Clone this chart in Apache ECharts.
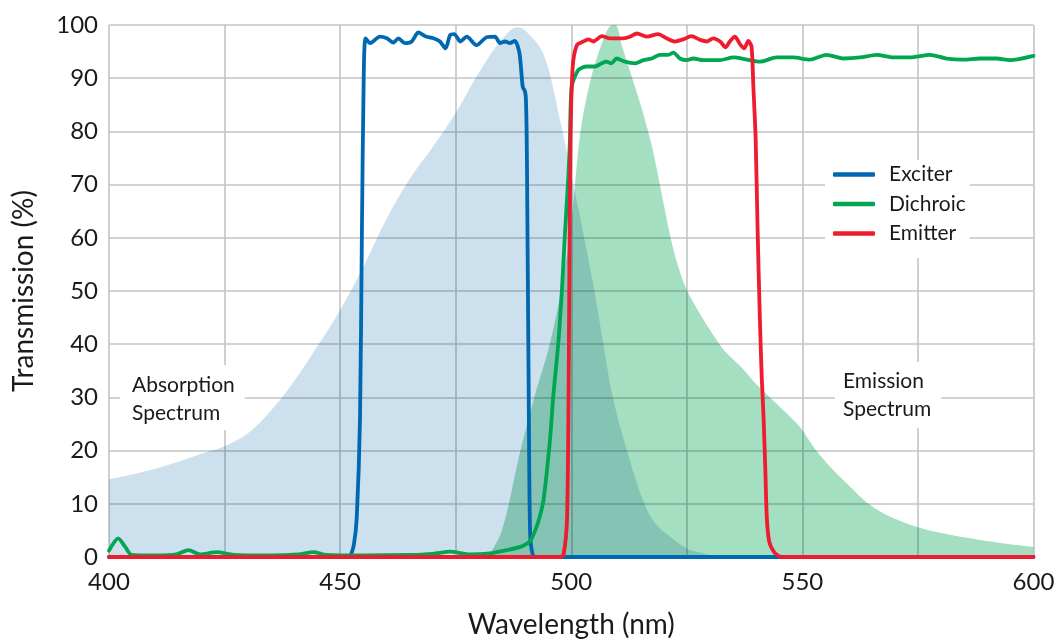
<!DOCTYPE html>
<html>
<head>
<meta charset="utf-8">
<title>Filter set transmission</title>
<script src="https://cdn.jsdelivr.net/npm/echarts@6/dist/echarts.min.js"></script>
<style>
  html, body { margin: 0; padding: 0; background: #fff; }
  #chart { width: 1059px; height: 641px; }
</style>
</head>
<body>
<div id="chart"></div>
<script>
// Wavelength axis ticks (nm) and transmission ticks (%)
const xTicks = [400, 450, 500, 550, 600];
const yTicks = [0, 10, 20, 30, 40, 50, 60, 70, 80, 90, 100];

// Fluorophore absorption spectrum (normalised, %)
const absNm = [400, 405, 410, 415, 420, 425, 430, 435, 440, 445, 450, 455, 460, 465, 470, 475, 480, 485, 488.3, 490, 494, 497.6, 500.4, 501.9, 504.7, 506.9, 509, 512, 515.5, 518, 521.4, 525, 528.5, 532, 600];
const absT  = [14.6, 15.5, 16.6, 17.9, 19.4, 20.8, 23.2, 27.5, 33, 39.5, 46.4, 54.5, 63.5, 71, 77, 83.5, 91, 97.3, 99.6, 99, 94.5, 82, 70.3, 63.9, 51.5, 40.2, 30, 20.1, 10.7, 6.5, 3.8, 1.6, 0.7, 0, 0];

// Fluorophore emission spectrum (normalised, %)
const emNm = [482, 485, 489, 492, 495.4, 498, 500, 502, 504, 506, 508.4, 509.5, 511, 513, 515, 517.5, 519.5, 521.5, 523, 525, 528, 530, 533, 537, 540, 543, 546, 549.5, 553, 556.6, 560, 564, 568, 572, 575, 580, 585.6, 590, 595, 600];
const emT  = [0, 5, 20, 30, 40.2, 51, 63, 80, 89, 95, 99.8, 100, 96, 90.5, 85, 77, 68.5, 60, 55, 50.2, 45.5, 42.7, 38.9, 35.5, 32.5, 30, 27.5, 24.4, 20, 16.4, 13.5, 10.2, 8, 6.5, 5.6, 4.5, 3.6, 3, 2.4, 1.9];

// Exciter filter transmission (%)
const exNm = [400, 451, 452.2, 453, 453.6, 454.3, 454.7, 455.1, 455.5, 456.5, 458.6, 460.1, 461.5, 462.6, 464, 465.5, 466.9, 468.4, 470.2, 471.6, 472.8, 473.8, 474.7, 476, 477.4, 479.5, 481.7, 483.5, 484.6, 485.7, 486.7, 487.8, 488.8, 489.5, 490, 490.2, 490.4, 490.8, 491.1, 491.7, 492.5, 600];
const exT  = [0, 0, 0.3, 2.5, 7.5, 26, 60, 90, 97.5, 96.6, 97.8, 97.5, 96.7, 97.5, 96.6, 96.9, 98.6, 97.9, 97.5, 96.9, 95.6, 98.1, 98.3, 96.9, 97.8, 96.2, 97.7, 97.8, 96.6, 96.9, 96.6, 97, 94.7, 88.4, 87.5, 85.9, 76, 30, 4.5, 0.3, 0, 0];

// Dichroic mirror transmission (%)
const diNm = [400, 402, 403.5, 404.9, 410, 414.6, 417.2, 419.7, 423.3, 427, 435, 441, 444.2, 447, 455, 465, 470, 473.8, 478.1, 482.4, 486, 489, 491.1, 492.5, 493.2, 494, 495.4, 496.1, 497.2, 498, 498.6, 499.4, 499.7, 500.1, 501.5, 503.3, 505.1, 506.6, 507.6, 508.7, 509.8, 511.6, 513.8, 515.6, 517.4, 519.2, 521, 522.1, 523.5, 525, 526.4, 528.6, 532.2, 535.1, 538, 540.8, 544.4, 548, 551.6, 555.2, 558.9, 562.5, 566.1, 569.7, 573.3, 577.6, 581.2, 584.8, 588.4, 592, 594.9, 600];
const diT  = [1.2, 3.5, 1.9, 0.4, 0.3, 0.5, 1.3, 0.5, 0.9, 0.4, 0.3, 0.5, 0.9, 0.4, 0.3, 0.4, 0.6, 1.0, 0.5, 0.7, 1.3, 1.9, 3, 5.7, 7.6, 10.7, 22, 30.1, 40.2, 50.5, 60.2, 72, 78, 88.4, 91.5, 92.2, 92.2, 92.8, 93.1, 92.8, 93.7, 93.1, 92.8, 93.4, 93.7, 94.4, 94.4, 94.8, 93.7, 93.4, 93.7, 93.4, 93.4, 93.9, 93.5, 93.1, 93.9, 93.9, 93.5, 94.4, 93.7, 93.9, 94.4, 93.9, 93.9, 94.4, 93.7, 93.5, 93.7, 93.7, 93.4, 94.2];

// Emitter filter transmission (%)
const emtNm = [400, 497.5, 498.3, 499.1, 499.5, 499.8, 500.3, 501.2, 502.6, 503.7, 504.8, 506.6, 508.4, 511.3, 512.7, 514.2, 516.3, 518.8, 520.6, 522.4, 524.2, 526, 527.9, 529.3, 530.7, 532.2, 533.4, 534.3, 535.4, 536.5, 537.4, 538.3, 539, 539.4, 539.9, 540.3, 540.8, 541.2, 541.6, 542, 542.3, 542.8, 543.6, 544.5, 545.5, 600];
const emtT  = [0, 0, 0.3, 7.5, 40, 76.5, 92, 96.2, 96.9, 97.3, 96.9, 97.9, 97.5, 97.5, 97.8, 98.4, 97.8, 98.3, 97.5, 96.9, 97.3, 97.9, 97.2, 96.9, 97.5, 96.9, 95.8, 96.9, 97.8, 96.4, 95.6, 97, 95.9, 88.4, 78.4, 62, 45, 34, 26.3, 16, 7.5, 3, 1.3, 0.4, 0, 0];

const legendNames = ['Exciter', 'Dichroic', 'Emitter'];

const pairs = (xs, ys) => xs.map((x, i) => [x, ys[i]]);
const FONT = 'Lato';
const INK = '#1a1a1a';

// Spectra are drawn as multiplied fills so their overlap darkens
function fillSeries(name, xs, ys, color) {
  return {
    name, type: 'line', data: pairs(xs, ys),
    smooth: 0.35, symbol: 'none', silent: true,
    lineStyle: { width: 0 },
    areaStyle: { color, opacity: 1 },
    blendMode: 'multiply', z: 1
  };
}
function curveSeries(name, xs, ys, color, z) {
  return {
    name, type: 'line', data: pairs(xs, ys),
    smooth: 0.25, symbol: 'none', silent: true,
    lineStyle: { width: 3.8, color, cap: 'round', join: 'round' },
    itemStyle: { color }, z
  };
}

const chart = echarts.init(document.getElementById('chart'), null, { renderer: 'canvas' });
chart.setOption({
  animation: false,
  backgroundColor: '#fff',
  textStyle: { fontFamily: FONT, color: INK },
  grid: { left: 109, right: 25.5, top: 25, bottom: 84, outerBoundsMode: 'none', containLabel: false },
  xAxis: {
    type: 'value', min: 400, max: 600, interval: 25,
    name: 'Wavelength (nm)', nameLocation: 'middle', nameGap: 54,
    nameTextStyle: { fontSize: 28, color: INK, fontFamily: FONT },
    axisLine: { show: false }, axisTick: { show: false },
    axisLabel: {
      fontSize: 24, color: INK, fontFamily: FONT, margin: 13,
      formatter: v => (xTicks.includes(v) ? String(v) : '')
    },
    splitLine: { show: true, lineStyle: { color: '#c4c4c8', width: 1.6 } }
  },
  yAxis: {
    type: 'value', min: 0, max: 100, interval: 10,
    name: 'Transmission (%)', nameLocation: 'middle', nameGap: 71,
    nameTextStyle: { fontSize: 28, color: INK, fontFamily: FONT },
    axisLine: { show: false }, axisTick: { show: false },
    axisLabel: {
      fontSize: 24, color: INK, fontFamily: FONT, margin: 11,
      formatter: v => (yTicks.includes(v) ? String(v) : '')
    },
    splitLine: { show: true, lineStyle: { color: '#c4c4c8', width: 1.6 } }
  },
  legend: {
    data: legendNames, orient: 'vertical',
    left: 825, top: 160,
    padding: [4, 4, 14, 8],
    backgroundColor: '#fff',
    icon: 'roundRect', itemWidth: 42, itemHeight: 4.5, itemGap: 8.5,
    selectedMode: false,
    textStyle: { fontSize: 21, color: INK, fontFamily: FONT, lineHeight: 20, padding: [0, 0, 0, 9] }
  },
  graphic: [
    {
      type: 'text', left: 120, top: 365, z: 50, silent: true,
      style: {
        text: 'Absorption\nSpectrum', font: '21px Lato', fill: INK, lineHeight: 28,
        backgroundColor: '#fff', padding: [6, 10, 3, 12]
      }
    },
    {
      type: 'text', left: 835, top: 362, z: 50, silent: true,
      style: {
        text: 'Emission\nSpectrum', font: '21px Lato', fill: INK, lineHeight: 28,
        backgroundColor: '#fff', padding: [5, 10, 5, 8]
      }
    }
  ],
  series: [
    fillSeries('Absorption Spectrum', absNm, absT, '#cde0ee'),
    fillSeries('Emission Spectrum', emNm, emT, '#a5dfc1'),
    curveSeries('Exciter', exNm, exT, '#0067b1', 3),
    curveSeries('Dichroic', diNm, diT, '#00a651', 4),
    curveSeries('Emitter', emtNm, emtT, '#ed1c2e', 5)
  ]
});
</script>
</body>
</html>
